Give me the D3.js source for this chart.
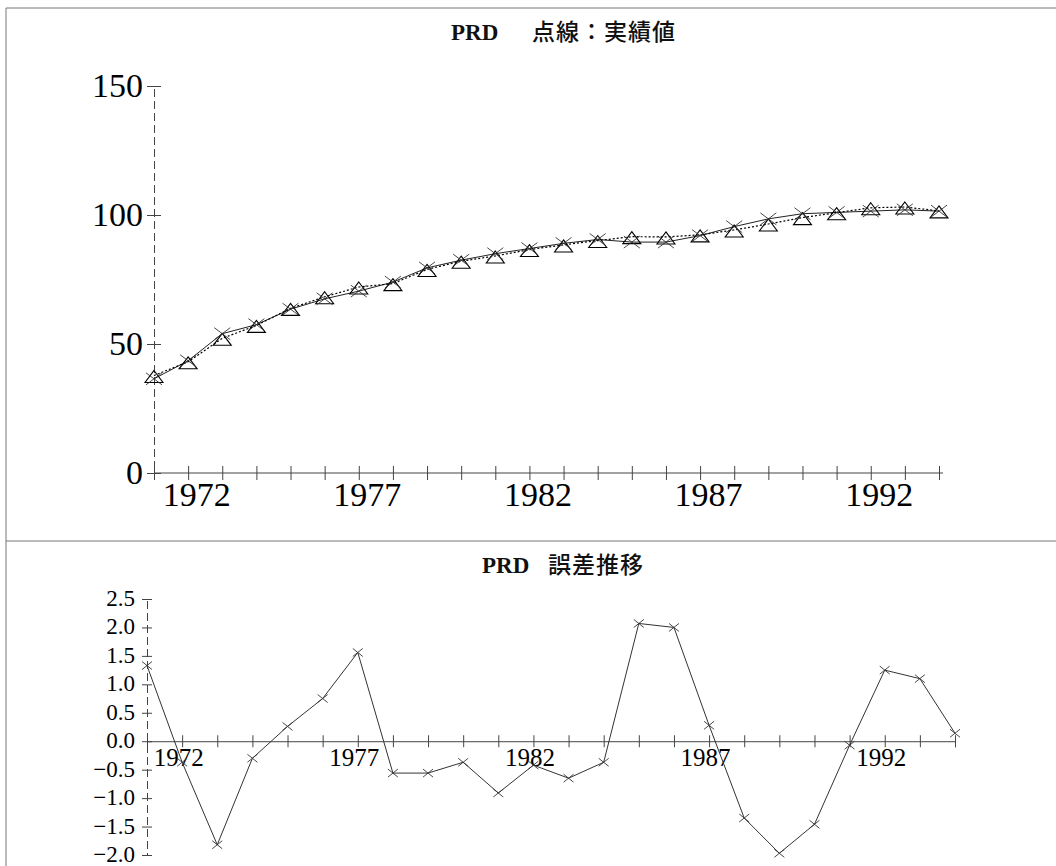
<!DOCTYPE html>
<html>
<head>
<meta charset="utf-8">
<script src="https://cdn.jsdelivr.net/npm/d3@7"></script>
<style>
  body { margin: 0; background: #fff; }
</style>
</head>
<body>
<div id="chart"></div>
<script>
// years on both panels
const years = [1971, 1972, 1973, 1974, 1975, 1976, 1977, 1978, 1979, 1980, 1981, 1982,
  1983, 1984, 1985, 1986, 1987, 1988, 1989, 1990, 1991, 1992, 1993, 1994];

// fitted values (solid line, x marks)
const fitted = [36.5, 43.5, 54.0, 57.5, 63.5, 67.5, 70.5, 74.0, 79.5, 82.5, 85.0, 87.0,
  89.0, 90.5, 89.5, 89.5, 92.0, 95.5, 98.5, 100.5, 101.0, 101.5, 102.0, 101.5];

// actual values (dotted line, triangles)
const actual = [37.8, 43.1, 52.2, 57.2, 63.8, 68.3, 72.1, 73.4, 78.9, 82.1, 84.1, 86.6,
  88.4, 90.1, 91.6, 91.5, 92.3, 94.2, 96.5, 99.0, 100.9, 102.8, 103.1, 101.6];

// error series for the lower panel
const errors = [1.33, -0.37, -1.82, -0.30, 0.26, 0.75, 1.56, -0.56, -0.56, -0.37, -0.91, -0.42,
  -0.65, -0.37, 2.07, 2.00, 0.28, -1.35, -1.97, -1.46, -0.07, 1.25, 1.10, 0.14];

const labelYears = [1972, 1977, 1982, 1987, 1992];
const levelTicks = [0, 50, 100, 150];
const errorTicks = [2.5, 2.0, 1.5, 1.0, 0.5, 0.0, -0.5, -1.0, -1.5, -2.0];

const topTitle = ['PRD', '点線：実績値'];
const bottomTitle = ['PRD', '誤差推移'];

let width = 1056;
let height = 866;

let svg = d3.select('#chart')
  .append('svg')
  .attr('width', width)
  .attr('height', height);

// frame lines round the two panels
let frame = svg.append('g')
  .attr('stroke', '#777')
  .attr('stroke-width', 1);
frame.append('line').attr('x1', 6).attr('x2', width).attr('y1', 8).attr('y2', 8);
frame.append('line').attr('x1', 6).attr('x2', 6).attr('y1', 8).attr('y2', height);
frame.append('line').attr('x1', 6).attr('x2', width).attr('y1', 541).attr('y2', 541);

function title(parts, xPrd, xCjk, y) {
  let t = svg.append('text').attr('y', y).attr('fill', '#111');
  t.append('tspan')
    .attr('x', xPrd)
    .attr('font-family', 'Liberation Serif, serif')
    .attr('font-weight', 'bold')
    .attr('font-size', 23)
    .text(parts[0]);
  t.append('tspan')
    .attr('x', xCjk)
    .attr('font-family', 'Noto Sans CJK JP, sans-serif')
    .attr('font-weight', 500)
    .attr('font-size', 23)
    .attr('letter-spacing', 1)
    .text(parts[1]);
}

// make a cross-tick axis: ticks go both sides of the line
function styleAxis(g, dashed) {
  g.select('.domain')
    .attr('stroke', '#444')
    .attr('stroke-width', 1)
    .attr('stroke-dasharray', dashed ? '8,4' : null);
  g.selectAll('.tick line').attr('stroke', '#444');
  g.selectAll('text')
    .attr('fill', '#000')
    .attr('font-family', 'Liberation Serif, serif');
}

// ---------- upper panel ----------
title(topTitle, 451, 532, 40);

let x1 = d3.scaleLinear().domain([1971, 1994]).range([154, 939]);
let y1 = d3.scaleLinear().domain([0, 150]).range([473, 86]);

let xAxis1 = svg.append('g')
  .attr('transform', `translate(0,${y1(0)})`)
  .call(d3.axisBottom(x1)
    .tickValues(years)
    .tickSizeOuter(0)
    .tickSize(7)
    .tickFormat(d => labelYears.includes(d) ? d : ''));
xAxis1.select('.domain').attr('d', `M${x1(1971)},0H${x1(1994) + 4}`);
xAxis1.selectAll('.tick line').attr('y1', -7).attr('y2', 7);
xAxis1.selectAll('text').attr('font-size', 34).attr('y', 33).attr('dy', 0).attr('dx', 8);
styleAxis(xAxis1, false);

let yAxis1 = svg.append('g')
  .attr('transform', `translate(${x1(1971)},0)`)
  .call(d3.axisLeft(y1)
    .tickValues(levelTicks)
    .tickSizeOuter(0)
    .tickSize(7)
    .tickFormat(d3.format('d')));
yAxis1.selectAll('.tick line').attr('x1', -7).attr('x2', 7);
yAxis1.selectAll('text').attr('font-size', 34).attr('x', -11);
styleAxis(yAxis1, true);

let fittedLine = d3.line()
  .x((d, i) => x1(years[i]))
  .y(d => y1(d));

svg.append('path')
  .datum(fitted)
  .attr('d', fittedLine)
  .attr('fill', 'none')
  .attr('stroke', '#222')
  .attr('stroke-width', 1);

svg.append('path')
  .datum(actual)
  .attr('d', fittedLine)
  .attr('fill', 'none')
  .attr('stroke', '#000')
  .attr('stroke-width', 1.2)
  .attr('stroke-dasharray', '2,2');

// triangles for actual values
svg.append('g').selectAll('path')
  .data(actual)
  .enter()
  .append('path')
  .attr('transform', (d, i) => `translate(${x1(years[i])},${y1(d)})`)
  .attr('d', 'M0,-5L9,7L-9,7Z')
  .attr('fill', 'none')
  .attr('stroke', '#000')
  .attr('stroke-width', 1.1);

// x marks for fitted values
svg.append('g').selectAll('path')
  .data(fitted)
  .enter()
  .append('path')
  .attr('transform', (d, i) => `translate(${x1(years[i])},${y1(d)})`)
  .attr('d', 'M-8,-6L8,6M-8,6L8,-6')
  .attr('fill', 'none')
  .attr('stroke', '#333')
  .attr('stroke-width', 0.9);

// ---------- lower panel ----------
title(bottomTitle, 482, 548, 573);

let x2 = d3.scaleLinear().domain([1971, 1994]).range([147, 955]);
let y2 = d3.scaleLinear().domain([-2.0, 2.5]).range([855, 599]);

let xAxis2 = svg.append('g')
  .attr('transform', `translate(0,${y2(0)})`)
  .call(d3.axisBottom(x2)
    .tickValues(years)
    .tickSizeOuter(0)
    .tickSize(6)
    .tickFormat(d => labelYears.includes(d) ? d : ''));
xAxis2.selectAll('.tick line').attr('y1', -6).attr('y2', 6);
xAxis2.selectAll('text').attr('font-size', 25).attr('y', 25).attr('dy', 0).attr('dx', -4);
styleAxis(xAxis2, false);

let yAxis2 = svg.append('g')
  .attr('transform', `translate(${x2(1971)},0)`)
  .call(d3.axisLeft(y2)
    .tickValues(errorTicks)
    .tickSizeOuter(0)
    .tickSize(5)
    .tickFormat(d3.format('.1f')));
yAxis2.selectAll('.tick line').attr('x1', -5).attr('x2', 5);
yAxis2.selectAll('text').attr('font-size', 23).attr('x', -12).attr('dy', '0.28em');
styleAxis(yAxis2, true);

let errorLine = d3.line()
  .x((d, i) => x2(years[i]))
  .y(d => y2(d));

svg.append('path')
  .datum(errors)
  .attr('d', errorLine)
  .attr('fill', 'none')
  .attr('stroke', '#333')
  .attr('stroke-width', 1);

svg.append('g').selectAll('path')
  .data(errors)
  .enter()
  .append('path')
  .attr('transform', (d, i) => `translate(${x2(years[i])},${y2(d)})`)
  .attr('d', 'M-5,-4L5,4M-5,4L5,-4')
  .attr('fill', 'none')
  .attr('stroke', '#333')
  .attr('stroke-width', 0.9);
</script>
</body>
</html>
